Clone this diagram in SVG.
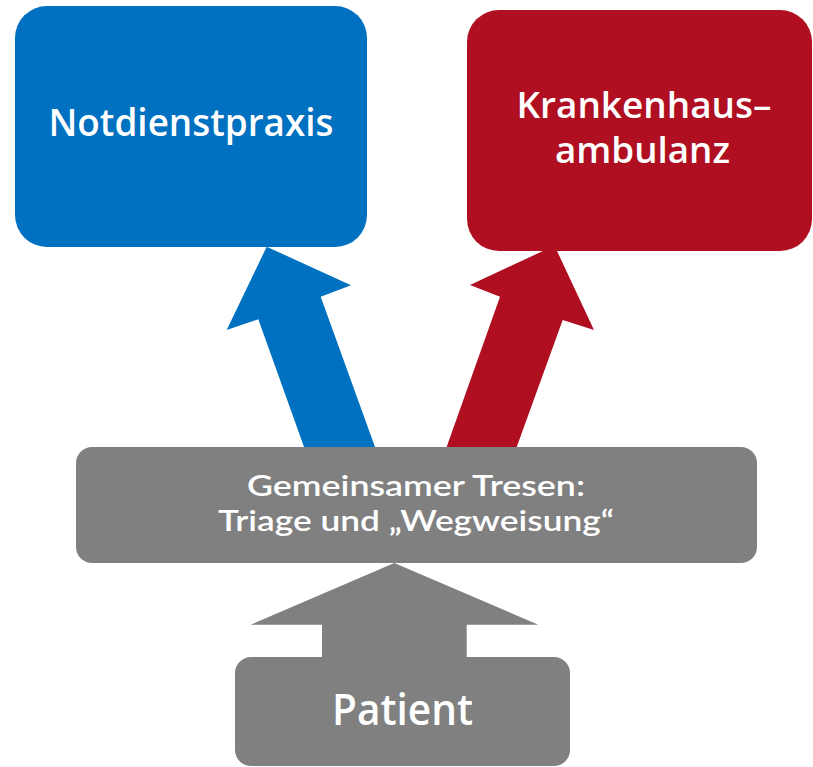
<svg xmlns="http://www.w3.org/2000/svg" width="813" height="767" viewBox="0 0 813 767">
<style>
.lbl{font-family:"Open Sans","Noto Sans","DejaVu Sans",sans-serif;font-weight:600;fill:#ffffff;text-anchor:middle}
.lbl2{font-family:Lato,"Open Sans","DejaVu Sans",sans-serif;font-weight:600;fill:#ffffff;text-anchor:middle}
.blue{fill:#0070C0}
.red{fill:#B00F22}
.gray{fill:#808080}
</style>
<rect width="813" height="767" fill="#ffffff"/>
<g id="connectors">
<polygon class="blue" points="266.7,246.7 351,285.3 320.7,296.7 379.7,460 308.7,460 258.3,319.3 226.7,330"/>
<polygon class="red" points="554.5,245.6 594,330 562.7,320 512,460 442,460 500,296.7 470,285"/>
<polygon class="gray" points="394.3,563 538.3,624.7 466.7,624.7 466.7,662 322,662 322,624.7 250.7,624.7"/>
</g>
<g id="notdienstpraxis">
<rect class="blue" x="15" y="6" width="352" height="241" rx="32" ry="32"/>
<text class="lbl" x="191" y="136" font-size="38" textLength="285" lengthAdjust="spacingAndGlyphs">Notdienstpraxis</text>
</g>
<g id="krankenhausambulanz">
<rect class="red" x="467" y="10" width="345" height="241" rx="32" ry="32"/>
<text class="lbl" x="644" y="118" font-size="36" textLength="255" lengthAdjust="spacingAndGlyphs">Krankenhaus–</text>
<text class="lbl" x="642.5" y="163" font-size="36" textLength="175" lengthAdjust="spacingAndGlyphs">ambulanz</text>
</g>
<g id="tresen">
<rect class="gray" x="76" y="447" width="681" height="116" rx="16" ry="16"/>
<text class="lbl2" x="416" y="496" font-size="29" textLength="338" lengthAdjust="spacingAndGlyphs">Gemeinsamer Tresen:</text>
<text class="lbl2" x="416" y="531" font-size="29" textLength="396" lengthAdjust="spacingAndGlyphs">Triage und „Wegweisung“</text>
</g>
<g id="patient">
<rect class="gray" x="235" y="657" width="335" height="109" rx="16" ry="16"/>
<text class="lbl" x="402.5" y="725" font-size="43" textLength="141" lengthAdjust="spacingAndGlyphs">Patient</text>
</g>
</svg>
